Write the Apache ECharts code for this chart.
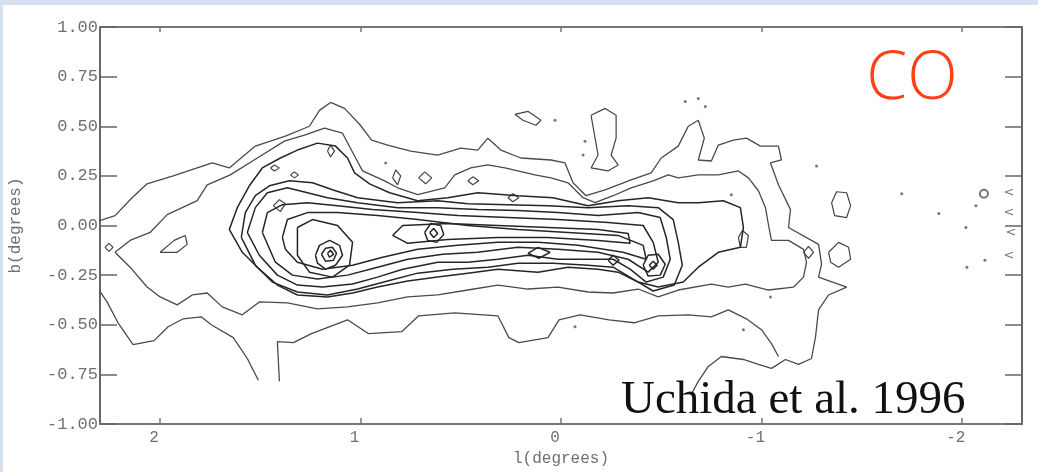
<!DOCTYPE html>
<html><head><meta charset="utf-8">
<script src="https://cdn.jsdelivr.net/npm/echarts@6/dist/echarts.min.js"></script>
<style>
html,body{margin:0;padding:0;background:#fff;}
#chart{position:absolute;left:0;top:0;width:1038px;height:472px;}
#frame{position:absolute;left:0;top:0;width:1038px;height:472px;box-sizing:border-box;border-top:5px solid #d5e1f1;border-left:3px solid #d5e1f1;pointer-events:none;}
</style></head><body>
<div id="chart"></div><div id="frame"></div>
<script>
// Galactic longitude l (deg) / latitude b (deg) tick values
const xTicks = [2, 1, 0, -1, -2];
const yTicks = [1.00, 0.75, 0.50, 0.25, 0.00, -0.25, -0.50, -0.75, -1.00];

// ---- contour lines, [l, b] in degrees ----
const c1Top = [[2.315,0.02],[2.225,0.05],[2.14,0.14],[2.065,0.21],[1.935,0.25],[1.815,0.29],[1.74,0.315],[1.655,0.29],[1.525,0.40],[1.375,0.45],[1.255,0.50],[1.205,0.58],[1.15,0.62],[1.08,0.59],[1.005,0.51],[0.945,0.43],[0.865,0.405],[0.75,0.375],[0.615,0.355],[0.50,0.39],[0.415,0.38],[0.365,0.44],[0.30,0.38],[0.20,0.34],[0.05,0.33],[-0.02,0.315],[-0.06,0.215],[-0.125,0.15],[-0.22,0.18],[-0.35,0.23],[-0.45,0.265],[-0.50,0.34],[-0.585,0.40],[-0.635,0.50],[-0.685,0.53],[-0.715,0.44],[-0.685,0.33],[-0.75,0.325],[-0.785,0.405],[-0.86,0.43],[-0.925,0.44],[-0.995,0.40],[-1.085,0.40],[-1.10,0.33],[-1.045,0.315],[-1.085,0.205],[-1.145,0.08],[-1.135,-0.01],[-1.285,-0.095],[-1.30,-0.195],[-1.285,-0.26],[-1.425,-0.31],[-1.335,-0.35],[-1.285,-0.425],[-1.27,-0.56],[-1.25,-0.67],[-1.185,-0.70],[-1.12,-0.675],[-1.05,-0.72],[-0.985,-0.70],[-0.91,-0.675],[-0.80,-0.66],[-0.735,-0.71],[-0.685,-0.785],[-0.65,-0.85]];
const c1Left = [[2.315,-0.31],[2.265,-0.385],[2.21,-0.49],[2.135,-0.60],[2.03,-0.58],[1.96,-0.51],[1.885,-0.47],[1.795,-0.46],[1.745,-0.50],[1.635,-0.565],[1.565,-0.67],[1.51,-0.78]];
const c1Bottom = [[1.405,-0.785],[1.415,-0.585],[1.335,-0.59],[1.245,-0.545],[1.065,-0.475],[0.96,-0.545],[0.795,-0.535],[0.71,-0.455],[0.53,-0.44],[0.315,-0.455],[0.26,-0.565],[0.21,-0.59],[0.065,-0.565],[0.01,-0.475],[-0.095,-0.45],[-0.24,-0.475],[-0.365,-0.49],[-0.485,-0.455],[-0.635,-0.45],[-0.75,-0.46],[-0.835,-0.425],[-0.925,-0.47],[-1.0,-0.525],[-1.05,-0.595],[-1.085,-0.66]];
const c2 = [[2.225,-0.135],[2.15,-0.075],[2.05,-0.035],[1.965,0.055],[1.815,0.125],[1.765,0.205],[1.65,0.255],[1.515,0.34],[1.38,0.425],[1.28,0.455],[1.18,0.49],[1.09,0.465],[1.03,0.35],[0.99,0.275],[0.88,0.225],[0.815,0.19],[0.715,0.155],[0.58,0.19],[0.53,0.255],[0.45,0.29],[0.365,0.305],[0.28,0.29],[0.13,0.255],[0.05,0.24],[-0.035,0.215],[-0.11,0.14],[-0.17,0.115],[-0.26,0.15],[-0.35,0.19],[-0.46,0.225],[-0.535,0.255],[-0.585,0.24],[-0.685,0.255],[-0.785,0.255],[-0.885,0.275],[-0.935,0.24],[-0.985,0.175],[-1.02,0.09],[-1.035,0.005],[-1.05,-0.075],[-1.135,-0.075],[-1.21,-0.12],[-1.225,-0.185],[-1.21,-0.26],[-1.16,-0.31],[-1.035,-0.325],[-0.92,-0.295],[-0.835,-0.31],[-0.75,-0.295],[-0.585,-0.325],[-0.485,-0.36],[-0.385,-0.32],[-0.26,-0.34],[-0.135,-0.335],[0.015,-0.31],[0.165,-0.32],[0.315,-0.30],[0.465,-0.325],[0.615,-0.35],[0.765,-0.36],[0.915,-0.39],[1.065,-0.41],[1.215,-0.42],[1.365,-0.39],[1.505,-0.385],[1.59,-0.45],[1.69,-0.41],[1.765,-0.34],[1.84,-0.35],[1.915,-0.40],[2.0,-0.36],[2.065,-0.31],[2.15,-0.21],[2.225,-0.135]];
const c3 = [[1.655,-0.02],[1.615,0.09],[1.555,0.20],[1.49,0.29],[1.40,0.34],[1.315,0.38],[1.215,0.415],[1.125,0.40],[1.065,0.34],[1.03,0.265],[0.955,0.21],[0.855,0.165],[0.715,0.125],[0.565,0.14],[0.415,0.165],[0.215,0.15],[0.04,0.14],[-0.135,0.10],[-0.285,0.125],[-0.435,0.14],[-0.585,0.115],[-0.685,0.115],[-0.81,0.125],[-0.895,0.09],[-0.91,-0.01],[-0.895,-0.11],[-0.785,-0.135],[-0.685,-0.21],[-0.61,-0.285],[-0.485,-0.31],[-0.385,-0.285],[-0.285,-0.235],[-0.185,-0.22],[-0.035,-0.21],[0.115,-0.235],[0.315,-0.22],[0.465,-0.24],[0.615,-0.26],[0.765,-0.28],[0.915,-0.31],[1.04,-0.34],[1.165,-0.36],[1.315,-0.35],[1.415,-0.30],[1.505,-0.22],[1.59,-0.135],[1.655,-0.02]];
const c7 = [[1.595,-0.06],[1.575,0.065],[1.525,0.15],[1.455,0.20],[1.355,0.225],[1.24,0.215],[1.14,0.18],[1.015,0.14],[0.815,0.115],[0.615,0.125],[0.465,0.11],[0.265,0.105],[0.065,0.10],[-0.135,0.09],[-0.335,0.10],[-0.485,0.09],[-0.56,0.03],[-0.585,-0.085],[-0.605,-0.20],[-0.565,-0.30],[-0.46,-0.33],[-0.36,-0.27],[-0.26,-0.21],[-0.135,-0.20],[0.04,-0.19],[0.215,-0.19],[0.365,-0.21],[0.54,-0.22],[0.715,-0.24],[0.865,-0.28],[1.015,-0.32],[1.165,-0.35],[1.315,-0.335],[1.44,-0.285],[1.525,-0.20],[1.595,-0.06]];
const c4 = [[1.565,-0.035],[1.525,0.09],[1.465,0.165],[1.365,0.19],[1.265,0.165],[1.165,0.14],[1.015,0.115],[0.815,0.09],[0.615,0.09],[0.415,0.08],[0.215,0.075],[0.015,0.065],[-0.185,0.05],[-0.385,0.065],[-0.495,0.04],[-0.525,-0.06],[-0.545,-0.17],[-0.51,-0.26],[-0.425,-0.285],[-0.345,-0.22],[-0.26,-0.17],[-0.135,-0.17],[0.015,-0.17],[0.165,-0.15],[0.315,-0.17],[0.465,-0.185],[0.615,-0.185],[0.79,-0.22],[0.915,-0.26],[1.04,-0.295],[1.19,-0.31],[1.315,-0.30],[1.415,-0.25],[1.505,-0.15],[1.565,-0.035]];
const c5 = [[1.49,-0.035],[1.465,0.065],[1.39,0.105],[1.265,0.115],[1.115,0.10],[0.94,0.08],[0.715,0.065],[0.515,0.05],[0.265,0.04],[0.015,0.03],[-0.235,0.015],[-0.41,0.0],[-0.46,-0.085],[-0.485,-0.185],[-0.435,-0.235],[-0.335,-0.17],[-0.185,-0.135],[0.015,-0.12],[0.215,-0.11],[0.415,-0.135],[0.59,-0.145],[0.765,-0.17],[0.915,-0.21],[1.065,-0.25],[1.215,-0.27],[1.34,-0.25],[1.425,-0.185],[1.49,-0.035]];
const c6 = [[1.39,-0.06],[1.365,0.03],[1.265,0.065],[1.115,0.065],[0.915,0.05],[0.715,0.03],[0.465,0.0],[0.215,-0.02],[-0.035,-0.035],[-0.285,-0.05],[-0.41,-0.10],[-0.425,-0.17],[-0.31,-0.135],[-0.085,-0.10],[0.115,-0.085],[0.315,-0.085],[0.515,-0.10],[0.715,-0.12],[0.89,-0.16],[1.04,-0.20],[1.19,-0.22],[1.315,-0.185],[1.375,-0.12],[1.39,-0.06]];
const c8 = [[0.84,-0.05],[0.79,0.0],[0.565,0.01],[0.315,0.0],[0.065,-0.01],[-0.185,-0.02],[-0.335,-0.04],[-0.345,-0.09],[-0.185,-0.075],[0.065,-0.06],[0.315,-0.06],[0.565,-0.07],[0.765,-0.09],[0.84,-0.05]];
const sgrB2Outer = [[1.315,-0.01],[1.24,0.03],[1.115,0.0],[1.04,-0.085],[1.055,-0.20],[1.14,-0.26],[1.255,-0.235],[1.315,-0.15],[1.315,-0.01]];
const sgrB2Ring1 = [[1.225,-0.15],[1.205,-0.10],[1.155,-0.075],[1.105,-0.10],[1.09,-0.15],[1.125,-0.20],[1.175,-0.22],[1.215,-0.19],[1.225,-0.15]];
const sgrB2Ring2 = [[1.195,-0.145],[1.175,-0.115],[1.14,-0.11],[1.12,-0.14],[1.135,-0.175],[1.175,-0.18],[1.195,-0.145]];
const sgrB2Ring3 = [[1.165,-0.14],[1.15,-0.125],[1.135,-0.145],[1.155,-0.16],[1.165,-0.14]];
const peakA1 = [[0.68,-0.035],[0.65,0.01],[0.60,0.0],[0.585,-0.045],[0.62,-0.085],[0.665,-0.075],[0.68,-0.035]];
const peakA2 = [[0.655,-0.035],[0.635,-0.015],[0.615,-0.04],[0.635,-0.06],[0.655,-0.035]];
const peakB = [[0.165,-0.14],[0.115,-0.11],[0.055,-0.135],[0.11,-0.165],[0.165,-0.14]];
const peakC1 = [[-0.41,-0.20],[-0.435,-0.15],[-0.485,-0.145],[-0.52,-0.195],[-0.495,-0.25],[-0.435,-0.255],[-0.41,-0.20]];
const peakC2 = [[-0.44,-0.20],[-0.46,-0.18],[-0.48,-0.20],[-0.46,-0.22],[-0.44,-0.20]];
const peakD = [[-0.235,-0.175],[-0.26,-0.15],[-0.29,-0.175],[-0.26,-0.20],[-0.235,-0.175]];
const blobs = [
  [[2.275,-0.11],[2.255,-0.09],[2.235,-0.11],[2.255,-0.13],[2.275,-0.11]],
  [[2.0,-0.135],[1.93,-0.075],[1.875,-0.05],[1.865,-0.095],[1.915,-0.135],[2.0,-0.135]],
  [[1.45,0.29],[1.43,0.305],[1.405,0.29],[1.43,0.275],[1.45,0.29]],
  [[1.35,0.255],[1.33,0.27],[1.31,0.255],[1.33,0.24],[1.35,0.255]],
  [[1.165,0.375],[1.15,0.405],[1.13,0.375],[1.15,0.345],[1.165,0.375]],
  [[1.435,0.10],[1.405,0.13],[1.375,0.11],[1.40,0.07],[1.435,0.10]],
  [[0.84,0.24],[0.825,0.28],[0.80,0.25],[0.815,0.205],[0.84,0.24]],
  [[0.71,0.24],[0.68,0.27],[0.645,0.24],[0.675,0.21],[0.71,0.24]],
  [[0.465,0.225],[0.44,0.245],[0.41,0.225],[0.44,0.205],[0.465,0.225]],
  [[0.265,0.14],[0.24,0.16],[0.21,0.14],[0.24,0.12],[0.265,0.14]],
  [[-0.15,0.555],[-0.22,0.59],[-0.275,0.555],[-0.275,0.44],[-0.25,0.355],[-0.285,0.305],[-0.235,0.275],[-0.15,0.29],[-0.185,0.355],[-0.17,0.44],[-0.15,0.555]],
  [[0.23,0.56],[0.165,0.575],[0.10,0.53],[0.125,0.505],[0.19,0.53],[0.23,0.56]],
  [[-0.885,-0.06],[-0.905,-0.025],[-0.935,-0.05],[-0.925,-0.11],[-0.895,-0.11],[-0.885,-0.06]],
  [[-1.21,-0.135],[-1.235,-0.105],[-1.26,-0.135],[-1.235,-0.165],[-1.21,-0.135]],
  [[-1.35,0.115],[-1.375,0.17],[-1.425,0.165],[-1.445,0.10],[-1.425,0.04],[-1.365,0.05],[-1.35,0.115]],
  [[-1.335,-0.135],[-1.385,-0.085],[-1.435,-0.11],[-1.445,-0.17],[-1.385,-0.21],[-1.345,-0.185],[-1.335,-0.135]]
];
// isolated single-pixel detections
const dots = [[0.875,0.315],[-0.12,0.425],[-0.11,0.355],[0.03,0.53],[-0.62,0.625],[-0.685,0.64],[-0.72,0.60],[-0.85,0.155],[-1.275,0.30],[-1.70,0.16],[-1.885,0.06],[-2.025,-0.21],[-2.115,-0.175],[-2.02,-0.01],[-2.07,0.10],[-1.045,-0.36],[-0.91,-0.525],[-0.07,-0.51]];
const rings = [[-2.11,0.16]];
const edgeMarks = [[-2.235,0.165],[-2.235,0.065],[-2.245,-0.035],[-2.235,-0.15]];

const outerLines = [c1Top, c1Left, c1Bottom, c2];
const innerLines = [c3, c7, c4, c5, c6, c8, sgrB2Outer, sgrB2Ring1, sgrB2Ring2, sgrB2Ring3, peakA1, peakA2, peakB, peakC1, peakC2, peakD];

const series = [];
outerLines.forEach(d => series.push({type:'line', data:d, symbol:'none', silent:true, lineStyle:{color:'#4a4a4a', width:1.3}, z:2}));
innerLines.forEach(d => series.push({type:'line', data:d, symbol:'none', silent:true, lineStyle:{color:'#262626', width:1.5}, z:3}));
blobs.forEach(d => series.push({type:'line', data:d, symbol:'none', silent:true, lineStyle:{color:'#444', width:1.2}, z:2}));
series.push({type:'scatter', data:dots, symbol:'circle', symbolSize:3, itemStyle:{color:'#555'}, silent:true});
series.push({type:'scatter', data:rings, symbol:'emptyCircle', symbolSize:8, itemStyle:{color:'#555', borderWidth:1.2}, silent:true});
series.push({type:'scatter', data:edgeMarks, symbolSize:0, silent:true, label:{show:true, formatter:'<', position:'inside', color:'#555', fontSize:13, fontFamily:'DejaVu Sans'}});

const mono = 'Liberation Mono';
const axisCol = '#6f6f6f';
const chart = echarts.init(document.getElementById('chart'), null, {renderer:'canvas'});
chart.setOption({
  animation:false,
  backgroundColor:'#ffffff',
  grid:{left:100, right:16, top:27, bottom:42, containLabel:false},
  xAxis:[
    {type:'value', min:-2.3, max:2.3, inverse:true, position:'bottom',
     name:'l(degrees)', nameLocation:'middle', nameGap:27, nameTextStyle:{fontFamily:mono, fontSize:16, color:axisCol},
     axisLine:{onZero:false, lineStyle:{color:'#777', width:2}},
     axisTick:{inside:true, length:6, customValues:xTicks, lineStyle:{color:'#777', width:1.5}},
     axisLabel:{customValues:xTicks, formatter:v=>String(v), fontFamily:mono, fontSize:16, color:axisCol, margin:6, padding:[0,12,0,0]},
     splitLine:{show:false}},
    {type:'value', min:-2.3, max:2.3, inverse:true, position:'top',
     axisLine:{onZero:false, lineStyle:{color:'#777', width:2}},
     axisTick:{inside:true, length:5, customValues:xTicks, lineStyle:{color:'#777', width:1.5}},
     axisLabel:{show:false}, splitLine:{show:false}}
  ],
  yAxis:[
    {type:'value', min:-1, max:1, interval:0.25, position:'left',
     name:'b(degrees)', nameLocation:'middle', nameGap:76, nameRotate:90, nameTextStyle:{fontFamily:mono, fontSize:16, color:axisCol},
     axisLine:{onZero:false, lineStyle:{color:'#666', width:2}},
     axisTick:{inside:true, length:17, lineStyle:{color:'#666', width:1.5}},
     axisLabel:{formatter:v=>v.toFixed(2), fontFamily:mono, fontSize:17, color:axisCol, margin:2},
     splitLine:{show:false}},
    {type:'value', min:-1, max:1, interval:0.25, position:'right',
     axisLine:{onZero:false, lineStyle:{color:'#666', width:2}},
     axisTick:{inside:true, length:17, lineStyle:{color:'#666', width:1.5}},
     axisLabel:{show:false}, splitLine:{show:false}}
  ],
  graphic:[
    {type:'text', x:912, y:80, style:{text:'CO', font:'300 66px "Open Sans", Lato, sans-serif', fill:'#ff4016', align:'center', verticalAlign:'middle'}, z:10},
    {type:'text', x:621, y:401, style:{text:'Uchida et al. 1996', font:'47px "Liberation Serif", serif', fill:'#111', align:'left', verticalAlign:'middle'}, z:10}
  ],
  series: series
});
</script>
</body></html>
